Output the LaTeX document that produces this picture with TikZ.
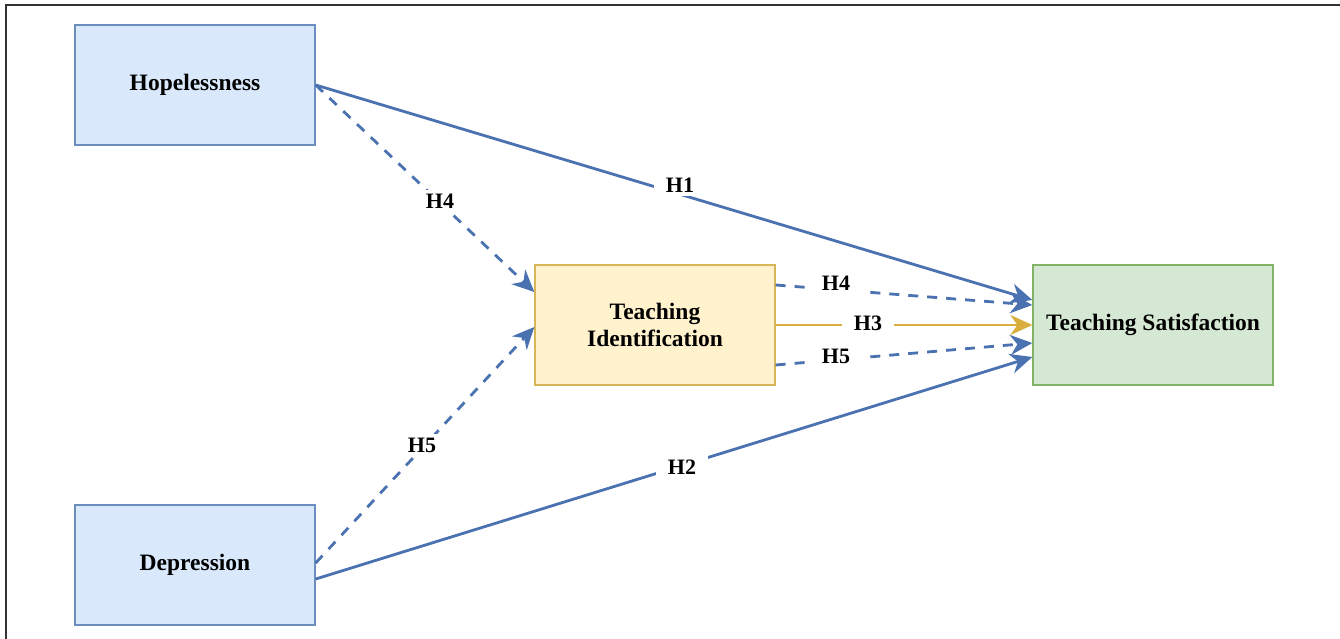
\documentclass[tikz,border=0pt]{standalone}
\usepackage{fontspec}
\setmainfont{Liberation Serif}
\usetikzlibrary{arrows.meta,calc}
\definecolor{bluefill}{HTML}{DAE8FC}
\definecolor{blueline}{HTML}{6C8EBF}
\definecolor{yelfill}{HTML}{FFF2CC}
\definecolor{yelline}{HTML}{D6B656}
\definecolor{grnfill}{HTML}{D5E8D4}
\definecolor{grnline}{HTML}{82B366}
\definecolor{arrowblue}{HTML}{4A72B0}
\definecolor{arrowgold}{HTML}{D9AE3C}
\tikzset{
  box/.style={draw, line width=1.3pt, minimum width=240pt, minimum height=120pt, align=center, font=\fontsize{23.5}{27}\selectfont\bfseries},
  bluebox/.style={box, fill=bluefill, draw=blueline},
  yelbox/.style={box, fill=yelfill, draw=yelline},
  grnbox/.style={box, fill=grnfill, draw=grnline},
  conn/.style={draw=arrowblue, line width=2.8pt, -{Stealth[length=22pt,width=20pt,inset=7pt]}},
  dconn/.style={conn, dash pattern=on 10pt off 9pt},
  gconn/.style={conn, draw=arrowgold, -{Stealth[length=22pt,width=20pt,inset=7pt,fill=arrowgold]}},
  lbl/.style={fill=white, inner xsep=12pt, inner ysep=4pt, font=\fontsize{22}{24}\selectfont\bfseries}
}
\begin{document}
\begin{tikzpicture}[x=1pt,y=-1pt]
\useasboundingbox (0,0) rectangle (1340,639);
\draw[line width=1.8pt, draw=black!80] (6,639) -- (6,5) -- (1340,5);
\node[bluebox] (hop) at (195,85) {Hopelessness};
\node[bluebox] (dep) at (195,565) {Depression};
\node[yelbox] (ti) at (655,325) {Teaching\\Identification};
\node[grnbox] (ts) at (1153,325) {Teaching Satisfaction};
% connectors
\draw[conn] (hop.east) -- ([yshift=25pt]ts.west);
\draw[dconn] (hop.east) -- ([yshift=33pt]ti.west);
\draw[dconn] ([yshift=2pt]dep.east) -- ([yshift=-2pt]ti.west);
\draw[conn] ([yshift=-14pt]dep.east) -- ([yshift=-32pt]ts.west);
\draw[dconn] ([yshift=40pt]ti.east) -- ([yshift=20pt]ts.west);
\draw[gconn] (ti.east) -- (ts.west);
\draw[dconn] ([yshift=-40pt]ti.east) -- ([yshift=-18pt]ts.west);
% labels
\node[lbl] (l1) at (680,185) {H1};
\node[lbl] (l4a) at (440,201) {H4};
\node[lbl] (l5a) at (422,445) {H5};
\node[lbl] (l2) at (682,467) {H2};
\node[lbl] (l4b) at (836,283) {H4};
\node[lbl] (l3) at (868,323) {H3};
\node[lbl] (l5b) at (836,356) {H5};
\end{tikzpicture}
\end{document}
